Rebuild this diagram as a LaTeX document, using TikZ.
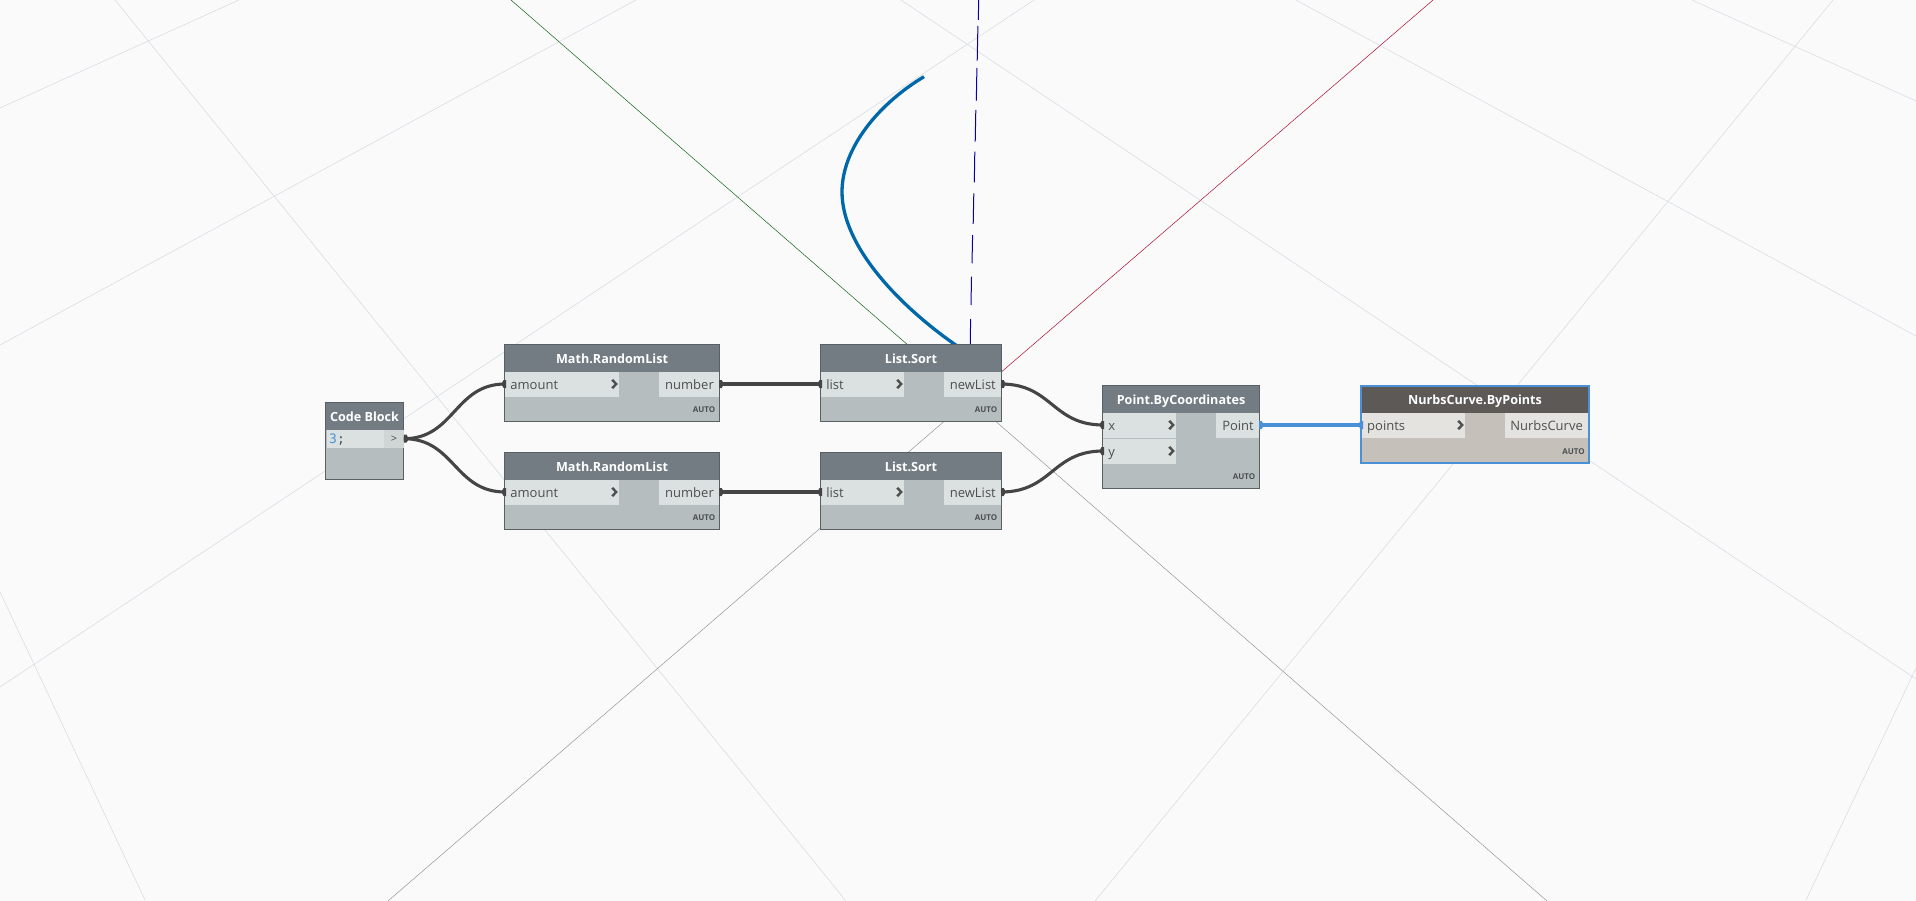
\documentclass[tikz,border=0pt]{standalone}
\usepackage{fontspec}
\setmainfont{Open Sans}
\setmonofont{DejaVu Sans Mono}
\usetikzlibrary{calc}
\definecolor{bgc}{HTML}{FAFAFB}
\definecolor{gridc}{HTML}{D5DAE0}
\definecolor{axgrey}{HTML}{93979A}
\definecolor{axgreen}{HTML}{126412}
\definecolor{axred}{HTML}{AC0C30}
\definecolor{axblue}{HTML}{0C00A4}
\definecolor{curvec}{HTML}{0068A8}
\definecolor{bodyc}{HTML}{B5BDBF}
\definecolor{hdrc}{HTML}{737C83}
\definecolor{rowc}{HTML}{DBE0E0}
\definecolor{edgec}{HTML}{596064}
\definecolor{selbody}{HTML}{C5C0B9}
\definecolor{selhdr}{HTML}{5C5957}
\definecolor{selrow}{HTML}{E4E3DF}
\definecolor{selblue}{HTML}{4A90D6}
\definecolor{wirec}{HTML}{454545}
\definecolor{txtc}{HTML}{4D4F50}
\tikzset{
  x=1pt,y=-1pt,
  gridline/.style={draw=gridc,line width=0.5pt},
  axisline/.style={line width=0.5pt},
  bodybox/.style={draw=edgec,line width=1pt,fill=bodyc,anchor=north west,inner sep=0pt,outer sep=0pt},
  bodysel/.style={draw=selblue,line width=2.2pt,fill=selbody,anchor=north west,inner sep=0pt,outer sep=0pt},
  hdrbox/.style={fill=hdrc,anchor=north west,inner sep=0pt,outer sep=0pt,text=white,text height=13pt,text depth=2pt,font=\bfseries\fontsize{12.6}{14}\selectfont},
  hdrsel/.style={fill=selhdr,anchor=north west,inner sep=0pt,outer sep=0pt,text=white,text height=13pt,text depth=2pt,font=\bfseries\fontsize{12.6}{14}\selectfont},
  portrow/.style={fill=rowc,anchor=north west,inner sep=0pt,outer sep=0pt,minimum height=25pt},
  portsel/.style={fill=selrow,anchor=north west,inner sep=0pt,outer sep=0pt,minimum height=25pt},
  porttxt/.style={text=txtc,inner sep=0pt,font=\fontsize{13}{15}\selectfont,text height=12pt,text depth=1.5pt},
  autotxt/.style={text=txtc,inner sep=0pt,font=\bfseries\fontsize{8}{9}\selectfont,anchor=east},
  chev/.style={draw=txtc,line width=2.4pt},
  wire/.style={draw=wirec,line width=3.1pt},
  wiresel/.style={draw=selblue,line width=3.1pt},
  knob/.style={fill=wirec},
  knobsel/.style={fill=selblue},
}
% body style, header style, name, x, y, w, h, title
\newcommand{\dynnode}[8]{%
  \node[#1,minimum width=#6pt,minimum height=#7pt] (#3) at (#4,#5) {};
  \node[#2,minimum width=#6pt,minimum height=26.9pt] (#3h) at (#3.north west) {#8};
  \node[#1,fill=none,minimum width=#6pt,minimum height=#7pt] (#3b) at (#4,#5) {};
}
% row style, name, x, y, w, text
\newcommand{\inrow}[6]{%
  \node[#1,minimum width=#5pt] (#2) at (#3,#4) {};
  \node[porttxt,anchor=west] (#2t) at ([xshift=5pt]#2.west) {#6};
  \draw[chev] ([xshift=-6.8pt,yshift=4.2pt]#2.east) -- ([xshift=-2.8pt]#2.east) -- ([xshift=-6.8pt,yshift=-4.2pt]#2.east);
}
\newcommand{\outrow}[6]{%
  \node[#1,minimum width=#5pt] (#2) at (#3,#4) {};
  \node[porttxt,anchor=east] (#2t) at ([xshift=-5pt]#2.east) {#6};
}
\newcommand{\autotag}[2]{\node[autotxt] (#2) at ([xshift=-4pt,yshift=11pt]#1.south east) {AUTO};}
% style, from, to
\newcommand{\wirecurve}[3]{%
  \coordinate (m) at ($(#2.east)!.5!(#3.west)$);
  \draw[#1] (#2.east) .. controls (m |- #2.east) and (m |- #3.west) .. (#3.west);
}
% knob on an output (right) and an input (left) edge
\newcommand{\knobout}[2]{\fill[#1] ([yshift=4pt]#2) -- ([xshift=2.6pt,yshift=4pt]#2) -- ([xshift=5pt]#2) -- ([xshift=2.6pt,yshift=-4pt]#2) -- ([yshift=-4pt]#2) -- cycle;}
\newcommand{\knobin}[2]{\fill[#1] ([xshift=1pt,yshift=4pt]#2) -- ([xshift=-1.6pt,yshift=4pt]#2) -- ([xshift=-4pt]#2) -- ([xshift=-1.6pt,yshift=-4pt]#2) -- ([xshift=1pt,yshift=-4pt]#2) -- cycle;}
\begin{document}
\begin{tikzpicture}
\useasboundingbox (0,0) rectangle (1916,901);
\clip (0,0) rectangle (1916,901);
\fill[bgc] (0,0) rectangle (1916,901);
% grid
\draw[gridline] (0,592) -- (145,900);
\draw[gridline] (115,0) -- (846,901);
\draw[gridline] (901,0) -- (1916,679);
\draw[gridline] (1296,0) -- (1916,336);
\draw[gridline] (1692,0) -- (1916,101);
\draw[gridline] (239,0) -- (0,108);
\draw[gridline] (636,0) -- (0,345);
\draw[gridline] (1034,0) -- (0,687);
\draw[gridline] (1833,0) -- (1095,901);
\draw[gridline] (1916,668) -- (1806,900);
% axes
\draw[axisline,draw=axgreen] (511,0) -- (970,399);
\draw[axisline,draw=axred] (1433,0) -- (970,399);
\draw[axisline,draw=axgrey] (970,399) -- (1547,901);
\draw[axisline,draw=axgrey] (970,399) -- (388,901);
\draw[draw=axblue,line width=1pt]
  (978.7,0) -- (978.3,20) (977.9,26) -- (977.2,60.7) (976.9,68) -- (976.3,100.7)
  (975.8,110) -- (975.2,141.7) (974.8,151.7) -- (974.3,182.3) (973.8,193.3) -- (973.2,224)
  (972.6,235) -- (972,263.3) (971.5,276.7) -- (971,305) (970.6,319) -- (970.2,350);
% curve
\draw[draw=curvec,line width=3.3pt] (924,76.7) .. controls (880,103) and (842,147) .. (842,192) .. controls (842,245) and (897,305) .. (960,348);
% nodes
\dynnode{bodybox}{hdrbox}{cb}{325.6}{402.6}{77.9}{76.4}{Code Block}
\node[fill=rowc,anchor=north west,inner sep=0pt,minimum width=57.5pt,minimum height=18pt] (cbin) at (326.5,429.5) {};
\node[inner sep=0pt,anchor=west,font=\ttfamily\fontsize{13}{15}\selectfont,text=txtc,text height=10pt,text depth=1pt] (cbcode) at ([xshift=2.5pt]cbin.west) {\textcolor{selblue}{3};};
\node[fill=rowc!95!black,anchor=north west,inner sep=0pt,minimum width=19.5pt,minimum height=18pt] (cbout) at (384,429.5) {};
\node[inner sep=0pt,font=\fontsize{11}{12}\selectfont,text=txtc] (cbgt) at (cbout.center) {>};

\dynnode{bodybox}{hdrbox}{ma}{504.6}{344.6}{214.9}{76.4}{Math.RandomList}
\inrow{portrow}{main}{505.2}{371.5}{113.8}{amount}
\outrow{portrow}{maout}{659}{371.5}{60}{number}
\autotag{ma}{maauto}

\dynnode{bodybox}{hdrbox}{mb}{504.6}{452.6}{214.9}{76.4}{Math.RandomList}
\inrow{portrow}{mbin}{505.2}{479.5}{113.8}{amount}
\outrow{portrow}{mbout}{659}{479.5}{60}{number}
\autotag{mb}{mbauto}

\dynnode{bodybox}{hdrbox}{la}{820.6}{344.6}{180.9}{76.4}{List.Sort}
\inrow{portrow}{lain}{821.2}{371.5}{82.8}{list}
\outrow{portrow}{laout}{944}{371.5}{57}{newList}
\autotag{la}{laauto}

\dynnode{bodybox}{hdrbox}{lb}{820.6}{452.6}{180.9}{76.4}{List.Sort}
\inrow{portrow}{lbin}{821.2}{479.5}{82.8}{list}
\outrow{portrow}{lbout}{944}{479.5}{57}{newList}
\autotag{lb}{lbauto}

\dynnode{bodybox}{hdrbox}{pt}{1102.6}{385.6}{156.9}{102.4}{Point.ByCoordinates}
\inrow{portrow}{ptx}{1103.2}{412.5}{72.8}{x}
\inrow{portrow}{pty}{1103.2}{438.5}{72.8}{y}
\outrow{portrow}{ptout}{1216}{412.5}{43}{Point}
\autotag{pt}{ptauto}

\dynnode{bodysel}{hdrsel}{nb}{1361}{385.7}{228}{77}{NurbsCurve.ByPoints}
\inrow{portsel}{nbin}{1362}{412.5}{103}{points}
\outrow{portsel}{nbout}{1505}{412.5}{83}{NurbsCurve}
\autotag{nb}{nbauto}

% wires
\wirecurve{wire}{cbout}{main}
\wirecurve{wire}{cbout}{mbin}
\wirecurve{wire}{maout}{lain}
\wirecurve{wire}{mbout}{lbin}
\wirecurve{wire}{laout}{ptx}
\wirecurve{wire}{lbout}{pty}
\wirecurve{wiresel}{ptout}{nbin}
% knobs
\knobout{knob}{cbout.east}
\knobout{knob}{maout.east}
\knobout{knob}{mbout.east}
\knobout{knob}{laout.east}
\knobout{knob}{lbout.east}
\knobout{knobsel}{ptout.east}
\knobin{knob}{main.west}
\knobin{knob}{mbin.west}
\knobin{knob}{lain.west}
\knobin{knob}{lbin.west}
\knobin{knob}{ptx.west}
\knobin{knob}{pty.west}
\knobin{knobsel}{nbin.west}
\end{tikzpicture}
\end{document}
